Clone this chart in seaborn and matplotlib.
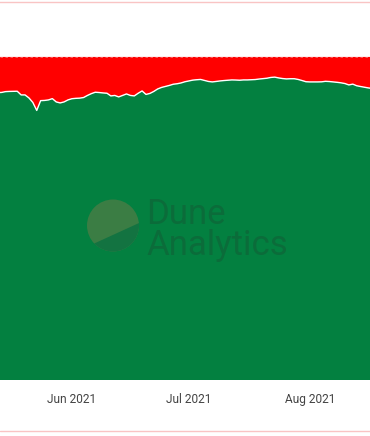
import numpy as np
import pandas as pd
import matplotlib
matplotlib.use("Agg")
import matplotlib.pyplot as plt
import matplotlib.dates as mdates
from matplotlib.patches import Circle, Polygon
import seaborn as sns

# ---- data (share of green series, %), daily ----
start_date = "2021-05-13"
green_pct = [
    88.95, 89.01, 89.26, 89.32, 89.35, 89.38, 88.24, 88.24, 87.31, 85.91,
    83.44, 86.47, 86.53, 86.69, 87.09, 86.07, 85.76, 86.07, 86.69, 87.06,
    87.18, 87.24, 87.43, 88.08, 88.64, 89.07, 88.98, 88.85, 88.76, 87.93,
    88.08, 87.62, 88.08, 88.54, 88.08, 87.93, 88.76, 89.47, 88.39, 88.70,
    89.32, 90.09, 90.56, 90.87, 91.18, 91.55, 91.70, 91.95, 92.32, 92.57,
    92.82, 92.94, 93.03, 92.72, 92.41, 92.26, 92.41, 92.57, 92.69, 92.79,
    92.88, 92.85, 92.79, 92.88, 92.88, 92.94, 93.00, 93.16, 93.28, 93.41,
    93.65, 93.75, 93.50, 93.31, 93.19, 93.25, 93.25, 93.03, 92.69, 92.32,
    92.26, 92.26, 92.26, 92.29, 92.45, 92.38, 92.26, 92.14, 91.98, 91.76,
    91.33, 91.58, 91.08, 90.84, 90.62, 90.40, 90.25,
]
series_names = ["green", "red"]
series_colors = ["#038040", "#ff0000"]
tick_fmt = "%b %Y"
watermark = "Dune\nAnalytics"

dates = pd.date_range(start_date, periods=len(green_pct), freq="D")
green = np.array(green_pct) / 100.0
red = 1.0 - green
df = pd.DataFrame({"date": dates, "green": green, "red": red})

sns.set_theme(style="white")
plt.rcParams["font.family"] = ["Roboto", "DejaVu Sans"]

W, H = 370, 436
fig = plt.figure(figsize=(W / 100, H / 100), dpi=100)
ax = fig.add_axes([0, (H - 380) / H, 1, (380 - 2) / H])

ax.stackplot(df["date"], df["green"], df["red"], colors=series_colors,
             linewidth=0, zorder=1)
sns.lineplot(data=df, x="date", y="green", color="white", linewidth=1.0,
             ax=ax, zorder=3)

ax.set_xlim(pd.Timestamp("2021-05-13 14:00"), pd.Timestamp("2021-08-16 10:00"))
ax.set_ylim(0, 1.17)
ax.set_xlabel("")
ax.set_ylabel("")
ax.set_yticks([])
ax.xaxis.set_major_locator(mdates.MonthLocator())
ax.xaxis.set_major_formatter(mdates.DateFormatter(tick_fmt))
ax.tick_params(axis="x", length=0, pad=9, labelsize=8.6, labelcolor="#444444")
for s in ["left", "right", "bottom"]:
    ax.spines[s].set_visible(False)
ax.spines["top"].set_color("#f9c4c4")
ax.spines["top"].set_linewidth(1.0)
ax.axhline(1.0, color="#f4b8b8", lw=0.6, ls=(0, (3, 3)), zorder=4, alpha=0.6)

# bottom border line
fig.add_artist(plt.Line2D([0, 1], [5 / H, 5 / H], color="#f9c4c4", lw=1.0,
                          transform=fig.transFigure))

# watermark overlay in pixel coordinates
ov = fig.add_axes([0, 0, 1, 1], facecolor="none")
ov.set_xlim(0, W)
ov.set_ylim(H, 0)
ov.axis("off")
circ = Circle((113, 225.5), 26, facecolor="#3b7d44", edgecolor="none", zorder=5)
ov.add_patch(circ)
seg = Polygon([(80, 250), (150, 218), (150, 260), (80, 260)],
              closed=True, facecolor="#137341", edgecolor="none", zorder=6)
ov.add_patch(seg)
seg.set_clip_path(circ)
ov.text(146, 197.5, watermark, fontsize=25, color="#0b6c3a", ha="left",
        va="top", linespacing=0.93, zorder=7)

fig.savefig("out.png", dpi=100, facecolor="white")
